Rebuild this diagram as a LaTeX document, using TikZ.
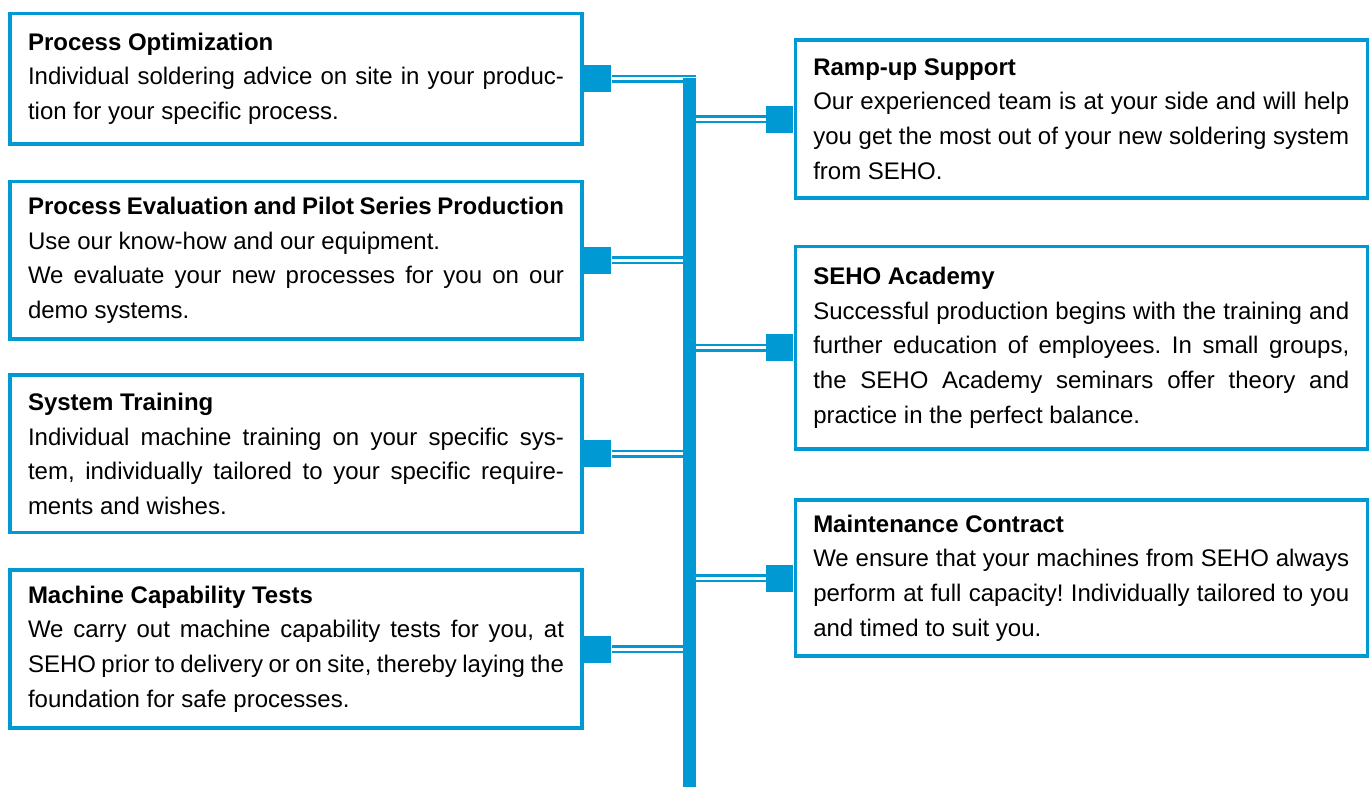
\documentclass[tikz,border=0pt]{standalone}
\usepackage{fontspec}
\setmainfont{Liberation Sans}
\usepackage{tikz}
\usetikzlibrary{positioning,backgrounds}
\definecolor{sehoblue}{RGB}{0,153,212}
\frenchspacing
\tikzstyle{card} = [draw=sehoblue, line width=1.75pt, rectangle, text width=268pt, inner xsep=9pt, inner ysep=0pt, align=justify, font=\fontsize{12}{17.3}\selectfont]
\tikzstyle{tab} = [fill=sehoblue, rectangle, minimum size=13.5pt, inner sep=0pt]
\tikzstyle{trunk} = [fill=sehoblue, rectangle, minimum width=6.5pt, inner sep=0pt]
\tikzstyle{link} = [draw=sehoblue, line width=1.25pt, double=white, double distance=1.5pt]

\begin{document}
\begin{tikzpicture}[x=0.5pt, y=-0.5pt]
	\useasboundingbox (0,0) rectangle (1372,787);
	% left column
	\node (po) [card, minimum height=65.25pt] at (296,78.75) {\textbf{Process Optimization}\\Individual soldering advice on site in your produc-\linebreak tion for your specific process.};
	\node (pe) [card, minimum height=78.75pt] at (296,260.25) {\textbf{Process Evaluation and Pilot Series Production}\\Use our know-how and our equipment.\\We evaluate your new processes for you on our\linebreak demo systems.};
	\node (st) [card, minimum height=78.75pt] at (296,453.75) {\textbf{System Training}\\Individual machine training on your specific sys-\linebreak tem, individually tailored to your specific require-\linebreak ments and wishes.};
	\node (mc) [card, minimum height=79pt] at (296,649) {\textbf{Machine Capability Tests}\\We carry out machine capability tests for you, at\linebreak SEHO prior to delivery or on site, thereby laying the\linebreak foundation for safe processes.};
	% right column
	\node (ru) [card, minimum height=79pt] at (1081.25,119) {\textbf{Ramp-up Support}\\Our experienced team is at your side and will help\linebreak you get the most out of your new soldering system\linebreak from SEHO.};
	\node (sa) [card, minimum height=101.25pt] at (1081.25,347.75) {\textbf{SEHO Academy}\\Successful production begins with the training and\linebreak further education of employees. In small groups,\linebreak the SEHO Academy seminars offer theory and\linebreak practice in the perfect balance.};
	\node (mt) [card, minimum height=78pt] at (1081.25,578) {\textbf{Maintenance Contract}\\We ensure that your machines from SEHO always\linebreak perform at full capacity! Individually tailored to you\linebreak and timed to suit you.};
	% tabs
	\node (potab) [tab, right=0pt of po] {};
	\node (petab) [tab, right=0pt of pe] {};
	\node (sttab) [tab, right=0pt of st] {};
	\node (mctab) [tab, right=0pt of mc] {};
	\node (rutab) [tab, left=0pt of ru] {};
	\node (satab) [tab, left=0pt of sa] {};
	\node (mttab) [tab, left=0pt of mt] {};
	\node (spine) [trunk, minimum height=355pt, anchor=north] at (689.5,78) {};
	\begin{pgfonlayer}{background}
	\draw [link] (potab.east) -- (potab.east -| spine.east);
	\draw [link] (petab.east) -- (petab.east -| spine.west);
	\draw [link] (sttab.east) -- (sttab.east -| spine.west);
	\draw [link] (mctab.east) -- (mctab.east -| spine.west);
	\draw [link] (rutab.west) -- (rutab.west -| spine.east);
	\draw [link] (satab.west) -- (satab.west -| spine.east);
	\draw [link] (mttab.west) -- (mttab.west -| spine.east);
	\end{pgfonlayer}
\end{tikzpicture}
\end{document}
